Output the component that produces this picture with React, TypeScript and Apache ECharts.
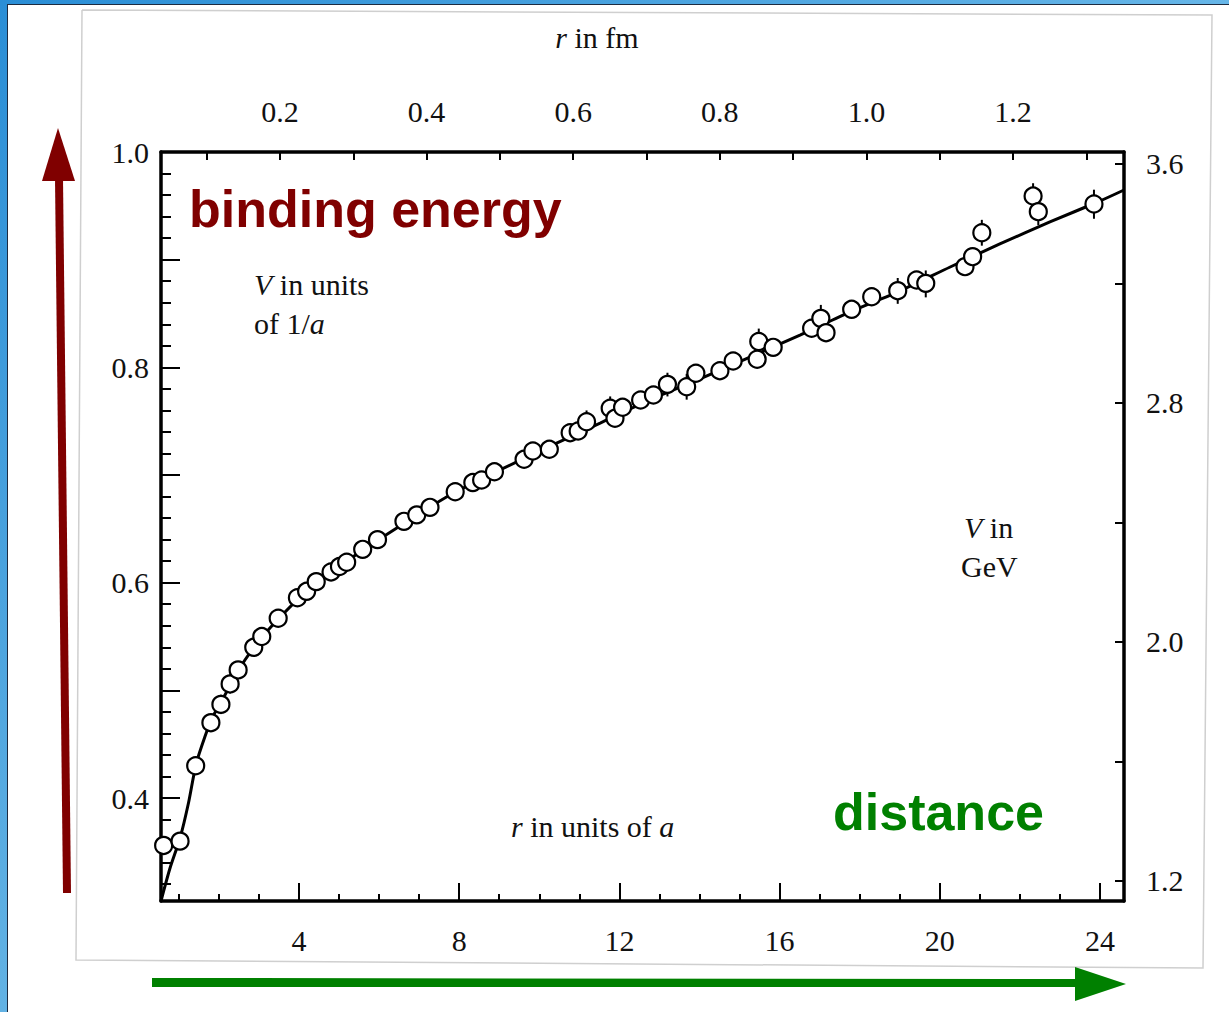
import React, { useEffect, useRef } from "react";
import * as echarts from "echarts";

// lattice data: r in units of a, V in units of 1/a
const rData = [
  0.62, 1.03, 1.42, 1.8, 2.05, 2.28, 2.48, 2.87, 3.07, 3.48, 3.96, 4.19, 4.43, 4.8, 5.01, 5.19,
  5.59, 5.96, 6.62, 6.94, 7.27, 7.9, 8.34, 8.56, 8.88, 9.62, 9.84, 10.25, 10.77, 10.97, 11.18,
  11.77, 11.89, 12.08, 12.53, 12.85, 13.2, 13.68, 13.91, 14.51, 14.84, 15.44, 15.48, 15.84,
  16.8, 17.03, 17.16, 17.8, 18.3, 18.95, 19.42, 19.65, 20.63, 20.82, 21.05, 22.33, 22.46, 23.85,
];
const vData = [
  0.356, 0.36, 0.43, 0.47, 0.487, 0.506, 0.519, 0.54, 0.55, 0.567, 0.586, 0.592, 0.601, 0.61,
  0.615, 0.619, 0.631, 0.64, 0.657, 0.663, 0.67, 0.6845, 0.693, 0.6954, 0.703, 0.7146, 0.7223,
  0.7239, 0.7393, 0.7409, 0.7495, 0.762, 0.7527, 0.7629, 0.7697, 0.7743, 0.7842, 0.782, 0.7945,
  0.7969, 0.8059, 0.8075, 0.824, 0.8186, 0.8363, 0.8455, 0.8322, 0.8539, 0.8656, 0.8712,
  0.8811, 0.878, 0.8935, 0.9028, 0.925, 0.9591, 0.9446, 0.9517,
];

// error bars (r, low, high)
const errR = [2.05, 2.28, 11.18, 11.77, 13.2, 13.68, 15.48, 17.03, 18.95, 19.65, 21.05, 22.33, 22.46, 23.85];
const errLow = [0.478, 0.497, 0.739, 0.751, 0.773, 0.77, 0.812, 0.833, 0.859, 0.865, 0.913, 0.947, 0.932, 0.938];
const errHigh = [0.496, 0.515, 0.76, 0.773, 0.795, 0.794, 0.836, 0.858, 0.883, 0.89, 0.937, 0.971, 0.957, 0.965];

// fitted curve
const curveR = [
  0.554, 0.78, 1.03, 1.24, 1.43, 1.65, 1.83, 2.08, 2.33, 2.65, 3.08, 3.53, 4.03, 4.77, 5.6,
  6.52, 7.77, 9.02, 10.27, 11.52, 12.76, 14.01, 15.26, 16.51, 17.75, 19.0, 20.26, 21.5, 22.75,
  24.0, 24.6,
];
const curveV = [
  0.3044, 0.335, 0.3629, 0.3954, 0.4316, 0.457, 0.4743, 0.491, 0.5078, 0.5282, 0.5495, 0.5681,
  0.5867, 0.609, 0.6303, 0.6526, 0.6814, 0.7047, 0.7269, 0.7483, 0.7697, 0.7892, 0.8096, 0.83,
  0.8514, 0.8709, 0.8932, 0.9146, 0.935, 0.9545, 0.9647,
];

// tick values and labels
const bottomLabels = [4, 8, 12, 16, 20, 24];
const bottomMinor = [1, 2, 3, 5, 6, 7, 9, 10, 11, 13, 14, 15, 17, 18, 19, 21, 22, 23];
const leftLabels = [0.4, 0.6, 0.8, 1.0];
const leftMajor = [0.4, 0.5, 0.6, 0.7, 0.8, 0.9, 1.0];
const leftMinor = [
  0.32, 0.34, 0.36, 0.38, 0.42, 0.44, 0.46, 0.48, 0.52, 0.54, 0.56, 0.58, 0.62, 0.64, 0.66, 0.68,
  0.72, 0.74, 0.76, 0.78, 0.82, 0.84, 0.86, 0.88, 0.92, 0.94, 0.96, 0.98,
];
const topLabels = [0.2, 0.4, 0.6, 0.8, 1.0, 1.2];
const topTicks = [0.1, 0.2, 0.3, 0.4, 0.5, 0.6, 0.7, 0.8, 0.9, 1.0, 1.1, 1.2, 1.3];
const rightLabels = [1.2, 2.0, 2.8, 3.6];
const rightTicks = [1.2, 1.6, 2.0, 2.4, 2.8, 3.2, 3.6];

const SERIF = "'Liberation Serif', 'DejaVu Serif', serif";
const SANS = "'Liberation Sans', Arial, sans-serif";
const INK = "#111";

export default function App() {
  const ref = useRef<HTMLDivElement>(null);
  useEffect(() => {
    if (!ref.current) return;
    const chart = echarts.init(ref.current, null, { renderer: "svg" });
    const labelStyle = { fontFamily: SERIF, fontSize: 30, color: INK };
    const frameLine = { show: true, lineStyle: { color: "#000", width: 3.5 } };
    const noLine = { show: false };
    const richI = { i: { fontFamily: SERIF, fontSize: 30, fontStyle: "italic", fill: INK } };

    const xMin = 0.554, xMax = 24.6;
    const yMin = 0.3044, yMax = 1.0;

    chart.setOption({
      animation: false,
      backgroundColor: "#fff",
      grid: { left: 161, right: 105, top: 152, bottom: 111, containLabel: false },
      xAxis: [
        {
          type: "value", position: "bottom", min: xMin, max: xMax,
          axisLine: frameLine,
          axisTick: { show: true, inside: true, length: 18, customValues: bottomLabels, lineStyle: { color: "#000", width: 2 } },
          axisLabel: { show: true, customValues: bottomLabels, margin: 24, formatter: (v: number) => String(v), ...labelStyle },
          splitLine: { show: false },
        },
        {
          type: "value", position: "bottom", min: xMin, max: xMax,
          axisLine: noLine,
          axisTick: { show: true, inside: true, length: 7, customValues: bottomMinor, lineStyle: { color: "#000", width: 2 } },
          axisLabel: { show: false },
          splitLine: { show: false },
        },
        {
          type: "value", position: "top", min: 0.0377, max: 1.3514,
          axisLine: frameLine,
          axisTick: { show: true, inside: true, length: 8, customValues: topTicks, lineStyle: { color: "#000", width: 2 } },
          axisLabel: { show: true, customValues: topLabels, margin: 26, formatter: (v: number) => v.toFixed(1), ...labelStyle },
          splitLine: { show: false },
        },
      ],
      yAxis: [
        {
          type: "value", position: "left", min: yMin, max: yMax,
          axisLine: frameLine,
          axisTick: { show: true, inside: true, length: 19, customValues: leftMajor, lineStyle: { color: "#000", width: 2 } },
          axisLabel: { show: true, customValues: leftLabels, margin: 12, formatter: (v: number) => v.toFixed(1), ...labelStyle },
          splitLine: { show: false },
        },
        {
          type: "value", position: "left", min: yMin, max: yMax,
          axisLine: noLine,
          axisTick: { show: true, inside: true, length: 10, customValues: leftMinor, lineStyle: { color: "#000", width: 2 } },
          axisLabel: { show: false },
          splitLine: { show: false },
        },
        {
          type: "value", position: "right", min: 1.133, max: 3.64,
          axisLine: frameLine,
          axisTick: { show: true, inside: true, length: 9, customValues: rightTicks, lineStyle: { color: "#000", width: 2 } },
          axisLabel: { show: true, customValues: rightLabels, margin: 22, formatter: (v: number) => v.toFixed(1), ...labelStyle },
          splitLine: { show: false },
        },
      ],
      series: [
        {
          type: "line", xAxisIndex: 0, yAxisIndex: 0,
          data: curveR.map((r, i) => [r, curveV[i]]),
          symbol: "none", smooth: 0.25,
          lineStyle: { color: "#000", width: 3 },
          z: 2,
        },
        {
          type: "custom", xAxisIndex: 0, yAxisIndex: 0,
          data: errR.map((r, i) => [r, errLow[i], errHigh[i]]),
          renderItem: (params: any, api: any) => {
            const p1 = api.coord([api.value(0), api.value(1)]);
            const p2 = api.coord([api.value(0), api.value(2)]);
            return {
              type: "line",
              shape: { x1: p1[0], y1: p1[1], x2: p2[0], y2: p2[1] },
              style: { stroke: "#000", lineWidth: 2 },
            };
          },
          z: 3,
        },
        {
          type: "scatter", xAxisIndex: 0, yAxisIndex: 0,
          data: rData.map((r, i) => [r, vData[i]]),
          symbol: "circle", symbolSize: 17,
          itemStyle: { color: "#fff", borderColor: "#000", borderWidth: 2.2, opacity: 1 },
          z: 4,
        },
      ],
      graphic: [
        // slide background borders
        {
          type: "rect", shape: { x: 0, y: 0, width: 7, height: 1012 },
          style: { fill: new echarts.graphic.LinearGradient(0, 0, 0, 1, [
            { offset: 0, color: "#2a8ed6" }, { offset: 1, color: "#62b2e4" },
          ]) },
          z: 10,
        },
        {
          type: "rect", shape: { x: 0, y: 0, width: 1229, height: 4 },
          style: { fill: new echarts.graphic.LinearGradient(0, 0, 1, 0, [
            { offset: 0, color: "#2a8ed6" }, { offset: 1, color: "#66b6e8" },
          ]) },
          z: 10,
        },
        { type: "line", shape: { x1: 7.5, y1: 4, x2: 7.5, y2: 1012 }, style: { stroke: "#1d2b40", lineWidth: 1 }, z: 10 },
        { type: "line", shape: { x1: 7, y1: 4.5, x2: 1229, y2: 4.5 }, style: { stroke: "#1d2b40", lineWidth: 1 }, z: 10 },
        // scanned image border
        {
          type: "polyline",
          shape: { points: [[82, 10], [1212, 15], [1203, 968], [76, 960], [82, 10]] },
          style: { stroke: "#cfcfcf", lineWidth: 1.5, fill: null },
          z: 0,
        },
        // red arrow
        { type: "polygon", shape: { points: [[55, 178], [63, 178], [71, 893], [63, 893]] }, style: { fill: "#800000" }, z: 10 },
        { type: "polygon", shape: { points: [[58, 128], [42, 181], [75, 181]] }, style: { fill: "#800000" }, z: 10 },
        // green arrow
        { type: "polygon", shape: { points: [[152, 978], [1076, 979], [1076, 987], [152, 987]] }, style: { fill: "#008000" }, z: 10 },
        { type: "polygon", shape: { points: [[1075, 967], [1126, 984], [1075, 1001]] }, style: { fill: "#008000" }, z: 10 },
        // top axis title
        {
          type: "text", x: 597, y: 37, z: 10,
          style: {
            text: "{i|r} in fm", fontFamily: SERIF, fontSize: 30, fill: INK, align: "center", verticalAlign: "middle",
            rich: richI,
          },
        },
        // annotations
        {
          type: "text", x: 189, y: 209, z: 10,
          style: { text: "binding energy", fontFamily: SANS, fontSize: 52, fontWeight: "bold", fill: "#800000", align: "left", verticalAlign: "middle" },
        },
        {
          type: "text", x: 833, y: 812, z: 10,
          style: { text: "distance", fontFamily: SANS, fontSize: 52, fontWeight: "bold", fill: "#008000", align: "left", verticalAlign: "middle" },
        },
        {
          type: "text", x: 254, y: 284, z: 10,
          style: {
            text: "{i|V} in units", fontFamily: SERIF, fontSize: 30, fill: INK, align: "left", verticalAlign: "middle",
            rich: richI,
          },
        },
        {
          type: "text", x: 254, y: 323, z: 10,
          style: {
            text: "of 1/{i|a}", fontFamily: SERIF, fontSize: 30, fill: INK, align: "left", verticalAlign: "middle",
            rich: richI,
          },
        },
        {
          type: "text", x: 964, y: 527, z: 10,
          style: {
            text: "{i|V} in", fontFamily: SERIF, fontSize: 30, fill: INK, align: "left", verticalAlign: "middle",
            rich: richI,
          },
        },
        {
          type: "text", x: 961, y: 566, z: 10,
          style: { text: "GeV", fontFamily: SERIF, fontSize: 30, fill: INK, align: "left", verticalAlign: "middle" },
        },
        {
          type: "text", x: 511, y: 826, z: 10,
          style: {
            text: "{i|r} in units of {i|a}", fontFamily: SERIF, fontSize: 30, fill: INK, align: "left", verticalAlign: "middle",
            rich: richI,
          },
        },
      ],
    });
    return () => chart.dispose();
  }, []);
  return (
    <div
      ref={ref}
      style={{ position: "fixed", left: 0, top: 0, width: 1229, height: 1012, background: "#fff" }}
    />
  );
}
